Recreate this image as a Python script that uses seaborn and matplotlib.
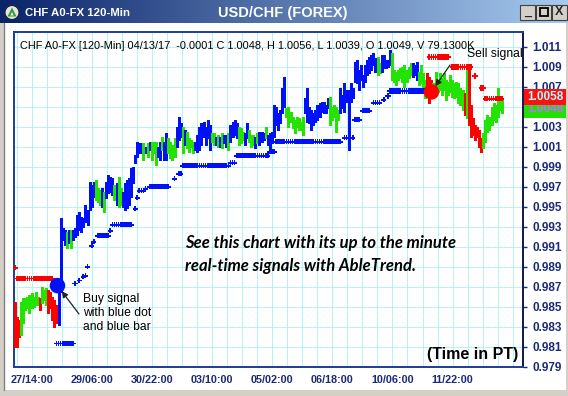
import numpy as np
import pandas as pd
import matplotlib
matplotlib.use("Agg")
import matplotlib.pyplot as plt
from matplotlib.patches import Rectangle, Circle, Polygon
import seaborn as sns

sns.set_style("white")
plt.rcParams['font.family'] = ['Liberation Sans', 'DejaVu Sans']

# 120-min bars, prices in pips (price * 10000)
high = [9855, 9840, 9837, 9855, 9859, 9859, 9860, 9862, 9864, 9860, 9865, 9860, 9859, 9870, 9867, 9869,
        9867, 9865, 9860, 9857, 9852, 9872, 9939,
        9929, 9927, 9925, 9927, 9927, 9927, 9929, 9942, 9945, 9940, 9939, 9952, 9947, 9975, 9972, 9975,
        9977, 9969, 9967, 9969, 9965, 9975, 9982, 9980, 9979, 9972, 9974, 9980, 9969, 9965, 9974, 9977,
        9979, 9989, 9990, 10002, 10015, 10014, 10014, 10014, 10010, 10014, 10015, 10015, 10015, 10015,
        10010, 10015, 10020, 10015, 10024, 10019, 10015,
        10012, 10019, 10030, 10040, 10034, 10030, 10027, 10025, 10019, 10017, 10015, 10015, 10022, 10030,
        10034, 10035, 10030, 10037, 10032, 10024, 10024, 10020, 10022, 10020, 10024, 10022, 10022, 10024,
        10032, 10035, 10037, 10034, 10030, 10029, 10025, 10024, 10034, 10027,
        10022, 10022, 10020, 10024, 10025, 10025, 10024, 10030, 10022, 10024, 10025, 10052, 10050, 10044,
        10047, 10069, 10080, 10049, 10050, 10045, 10040, 10037, 10040, 10039, 10035, 10040, 10059, 10069,
        10050, 10047, 10044, 10047, 10052, 10054, 10055, 10055, 10052, 10059,
        10060, 10050, 10052, 10050, 10047, 10069, 10062, 10074, 10067, 10067, 10074, 10069, 10095, 10097,
        10087, 10092, 10082, 10092, 10097, 10100, 10102, 10104, 10099, 10100, 10094, 10102, 10102, 10097,
        10097, 10107, 10104, 10087, 10085, 10087, 10089, 10090, 10092, 10087, 10090, 10094,
        10094, 10092, 10095, 10085, 10092, 10084, 10077, 10084, 10080, 10077, 10074, 10085, 10077, 10084,
        10079, 10084, 10077, 10075, 10082, 10077, 10074, 10075, 10074, 10069, 10067, 10064, 10089, 10089,
        10052, 10039, 10032, 10030, 10027, 10019, 10024, 10037, 10042, 10040, 10050, 10054, 10052, 10069,
        10060, 10057]
low = [9810, 9810, 9820, 9822, 9834, 9847, 9849, 9844, 9849, 9850, 9852, 9852, 9847, 9854, 9857, 9852,
       9844, 9849, 9837, 9830, 9834, 9832, 9865,
       9917, 9912, 9909, 9914, 9909, 9917, 9920, 9922, 9927, 9925, 9930, 9935, 9932, 9947, 9950, 9960,
       9957, 9955, 9952, 9950, 9945, 9959, 9964, 9965, 9962, 9957, 9952, 9950, 9952, 9950, 9947, 9949,
       9952, 9960, 9974, 9994, 10000, 10004, 10004, 9997, 10004, 10000, 10007, 9997, 10004, 9992,
       10000, 9997, 10007, 9997, 9997, 10004, 9999,
       9997, 10000, 10010, 10017, 10020, 10004, 10012, 10009, 10005, 10010, 10004, 10007, 10005, 10007,
       10012, 10020, 10012, 10019, 10007, 10015, 10012, 10012, 10010, 10010, 10009, 10014, 10010, 10007,
       10015, 10020, 10022, 10019, 10012, 10014, 10017, 10012, 10019, 10015,
       10010, 10012, 10009, 10014, 10012, 10015, 10017, 10019, 10012, 10007, 10014, 10020, 10032, 10027,
       10034, 10044, 10050, 10040, 10030, 10035, 10029, 10024, 10030, 10027, 10027, 10022, 10044, 10035,
       10034, 10027, 10032, 10035, 10037, 10040, 10045, 10044, 10044, 10049,
       10032, 10037, 10040, 10025, 10037, 10044, 10049, 10045, 10055, 10007, 10055, 10059, 10075, 10074,
       10067, 10077, 10070, 10075, 10082, 10084, 10087, 10092, 10085, 10082, 10084, 10085, 10089, 10089,
       10090, 10092, 10077, 10075, 10072, 10077, 10079, 10075, 10070, 10075, 10079, 10082,
       10080, 10082, 10077, 10072, 10074, 10069, 10059, 10062, 10054, 10059, 10064, 10069, 10065, 10067,
       10062, 10067, 10057, 10062, 10065, 10060, 10059, 10060, 10054, 10052, 10047, 10042, 10039, 10032,
       10020, 10022, 10017, 10020, 10010, 10005, 10009, 10015, 10025, 10027, 10032, 10037, 10035, 10040,
       10047, 10044]
# b = trend up (blue), g = weak (green), r = trend down (red)
bar_color = ("rrrgggggggggrgggrrrrrbb"
             "bbgbgbbbbbbbbbbbgggbgbbbbgbggbbbbbbbbbbgbgbgggbbgbbgg"
             "ggbbbgbggggbbbbbbbbggbgbgbbgbbbbgggbbg"
             "ggbgbbbgbbbbbbbbbgggggggggbbbbbbbbbbbb"
             "gggggbbbbbbbbbbbbbbbbbbggbbbbbgggggggggg"
             "bbbggggrrrgggggggggggggggrgrrrrrrrgggggggggg")

# AbleTrend stop dots: (first bar, last bar, level in pips)
blue_stops = [(20, 28, 9813), (29, 29, 9873), (31, 31, 9876), (33, 33, 9880), (34, 34, 9881),
              (35, 35, 9890), (37, 37, 9911), (38, 38, 9915), (40, 45, 9921), (46, 46, 9926),
              (47, 56, 9932), (58, 58, 9948), (59, 59, 9959), (60, 62, 9966), (63, 63, 9968),
              (65, 74, 9970), (77, 77, 9978), (79, 80, 9983), (81, 103, 9991), (104, 106, 9994),
              (107, 122, 10001), (123, 125, 10005), (126, 157, 10015), (159, 163, 10019),
              (164, 166, 10037), (168, 171, 10046), (173, 176, 10054), (178, 178, 10057),
              (180, 180, 10061), (181, 198, 10066)]
red_stops = [(0, 0, 9889), (1, 18, 9878), (200, 209, 10100), (211, 220, 10090), (222, 222, 10081),
             (225, 226, 10069), (227, 235, 10058)]

buy_bar, buy_price = 20.5, 0.9871
sell_bar, sell_price = 201, 1.0065

x_labels = ['27/14:00', '29/06:00', '30/22:00', '03/10:00', '05/02:00', '06/18:00', '10/06:00', '11/22:00']
y_ticks = np.arange(979, 1012, 2) / 1000

header = "CHF A0-FX [120-Min] 04/13/17  -0.0001 C 1.0048, H 1.0056, L 1.0039, O 1.0049, V 79.1300K"

BLUE, GREEN, RED = '#0010f8', '#22e400', '#ff0000'
NAVY = '#1a2a78'
cmap = {'b': BLUE, 'g': GREEN, 'r': RED}

bars = pd.DataFrame({'bar': np.arange(len(high)), 'high': np.array(high) / 1e4,
                     'low': np.array(low) / 1e4, 'c': list(bar_color)})


def expand(runs, side):
    rows = [(i, lvl / 1e4, side) for a, b, lvl in runs for i in range(a, b + 1)]
    return pd.DataFrame(rows, columns=['bar', 'price', 'side'])


stops = pd.concat([expand(blue_stops, 'up'), expand(red_stops, 'down')])

W, H = 568, 396
fig = plt.figure(figsize=(W / 100, H / 100), dpi=100)

# window frame in pixel coordinates
bg = fig.add_axes([0, 0, 1, 1])
bg.axis('off')
bg.add_patch(Rectangle((0, 0), W, H, fc='#d4d0c8', ec='none', zorder=0))
bg.add_patch(Rectangle((4, 23), W - 6, 367, fc='white', ec='none', zorder=1))
bg.plot([4, 4], [23, 390], color='#808080', lw=1, zorder=2)
c0 = np.array([10, 36, 106]) / 255
c1 = np.array([166, 202, 240]) / 255
grad = c0 + (c1 - c0) * np.linspace(0, 1, 300)[None, :, None]
bg.imshow(grad, extent=(0, W, 23, 0), aspect='auto', zorder=2)
bg.add_patch(Circle((12, 12.5), 7, fc='#e6e6e6', ec='#202020', lw=0.8, zorder=3))
bg.add_patch(Polygon([(7.5, 16.5), (12, 7.5), (16.5, 16.5)], fc='#2a9a3a', ec='none', zorder=4))
bg.add_patch(Polygon([(10.3, 15.5), (12, 12), (13.7, 15.5)], fc='white', ec='none', zorder=5))
bg.text(25, 13, "CHF A0-FX 120-Min", color='white', fontsize=8.2, fontweight='bold', va='center', zorder=5)
bg.text(283, 12.5, "USD/CHF (FOREX)", color='white', fontsize=10.5, fontweight='bold', ha='center',
        va='center', zorder=5)
for bx, glyph in zip([520, 536, 552], ['_', '', 'X']):
    bg.add_patch(Rectangle((bx, 4.5), 15, 15, fc='#d4d0c8', ec='#404040', lw=0.8, zorder=3))
    if glyph:
        bg.text(bx + 7.5, 12, glyph, fontsize=9, fontweight='bold', ha='center', va='center', zorder=5)
bg.add_patch(Rectangle((540, 8), 7.5, 7.5, fc='none', ec='black', lw=1.3, zorder=5))
bg.set_xlim(0, W)
bg.set_ylim(H, 0)
P = bg.transData

# chart panel
ax = fig.add_axes([14 / W, 1 - 366.5 / H, 509 / W, 334.5 / H])
ax.set_facecolor('white')
ax.set_xlim(-0.48, 245.2)
ax.set_ylim(0.97905, 1.0125)

first_label, step = 8.2, 29 / 4
ticks = first_label + step * np.arange(-1, 33)
tick_text = []
for j in range(len(ticks)):
    n = (j - 1) // 4
    tick_text.append(x_labels[n] if (j - 1) % 4 == 0 and 0 <= n < len(x_labels) else '')
ax.set_xticks(ticks)
ax.set_xticklabels(tick_text, fontweight='bold', fontsize=7.8, color=NAVY)
ax.yaxis.tick_right()
ax.set_yticks(y_ticks)
ax.set_yticklabels([f"{v:.3f}" for v in y_ticks], fontweight='bold', fontsize=8.5, color=NAVY)
ax.tick_params(axis='x', direction='out', length=4, width=1, color=NAVY, pad=2)
ax.tick_params(axis='y', direction='out', length=3, width=1, color=NAVY, pad=4)
ax.grid(True, color='#a6f2f2', lw=0.6)
ax.set_axisbelow(True)
for s in ax.spines.values():
    s.set_color('#1e3c96')
    s.set_linewidth(1.4)
ax.spines['right'].set_color('#101848')

ax.vlines(bars['bar'], bars['low'], bars['high'], colors=[cmap[c] for c in bars['c']], lw=0.75,
          antialiased=False, zorder=3)
sns.scatterplot(data=stops, x='bar', y='price', hue='side', palette={'up': BLUE, 'down': RED},
                marker='P', s=14, linewidth=0, legend=False, ax=ax, zorder=4)
sns.scatterplot(x=[buy_bar, sell_bar], y=[buy_price, sell_price], hue=['buy', 'sell'],
                palette={'buy': BLUE, 'sell': RED}, s=125, linewidth=0, legend=False, ax=ax, zorder=5)
ax.set_xlabel('')
ax.set_ylabel('')

# texts
ax.text(20, 46, header, transform=P, fontsize=7.9, va='center', ha='left', color='black')
ax.text(185, 243, "See this chart with its up to the minute", transform=P, fontsize=12,
        fontweight='bold', style='italic', family='Lato', va='center', color='black')
ax.text(185, 266, "real-time signals with AbleTrend.", transform=P, fontsize=12,
        fontweight='bold', style='italic', family='Lato', va='center', color='black')
for yy, line in zip([299, 313, 327], ["Buy signal", "with blue dot", "and blue bar"]):
    ax.text(83, yy, line, transform=P, fontsize=8.7, va='center', color='black')
ax.text(467, 54, "Sell signal", transform=P, fontsize=8.7, va='center', color='black')
ax.text(427, 354, "(Time in PT)", transform=P, fontsize=11.5, fontweight='bold', va='center', color='black')
ax.annotate('', xy=(buy_bar, buy_price), xycoords='data', xytext=(79, 314), textcoords=P,
            arrowprops=dict(arrowstyle='-|>', color='#222222', lw=0.9, shrinkA=0, shrinkB=5,
                            mutation_scale=9))
ax.annotate('', xy=(sell_bar, sell_price), xycoords='data', xytext=(450, 65), textcoords=P,
            arrowprops=dict(arrowstyle='-|>', color='#222222', lw=0.9, shrinkA=0, shrinkB=5,
                            mutation_scale=9))

# last price boxes
ax.add_patch(Rectangle((524, 105), 42, 13, transform=P, fc='#22e000', ec='none', clip_on=False, zorder=10))
ax.text(545, 109, "1.0048", transform=P, fontsize=8.5, fontweight='bold', color='#c070ff',
        ha='center', va='center', clip_on=False, zorder=11)
ax.add_patch(Rectangle((524, 89), 42, 16, transform=P, fc='#ff1010', ec='none', clip_on=False, zorder=12))
ax.text(545, 97.5, "1.0058", transform=P, fontsize=8.5, fontweight='bold', color='#a8ffff',
        ha='center', va='center', clip_on=False, zorder=13)

fig.savefig('out.png', dpi=100)
